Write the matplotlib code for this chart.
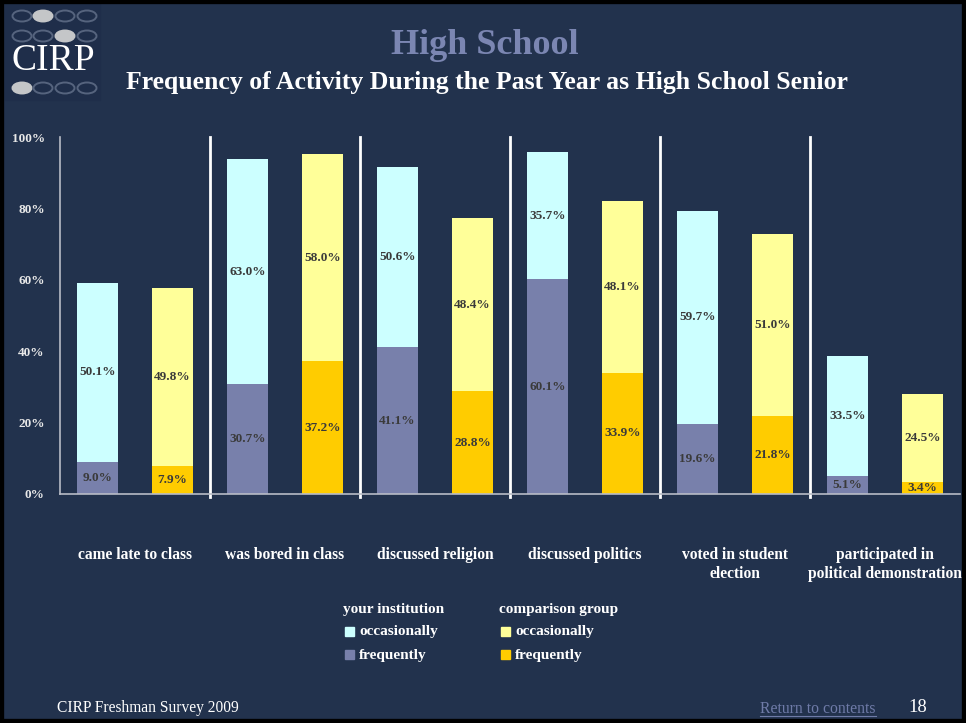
import numpy as np
import matplotlib
matplotlib.use("Agg")
import matplotlib.pyplot as plt
from matplotlib.patches import Rectangle, Ellipse
from matplotlib.lines import Line2D

# Data (percent of respondents)
categories = ["came late to class", "was bored in class", "discussed religion",
              "discussed politics", "voted in student\nelection",
              "participated in\npolitical demonstration"]
inst_frequently = [9.0, 30.7, 41.1, 60.1, 19.6, 5.1]
inst_occasionally = [50.1, 63.0, 50.6, 35.7, 59.7, 33.5]
comp_frequently = [7.9, 37.2, 28.8, 33.9, 21.8, 3.4]
comp_occasionally = [49.8, 58.0, 48.4, 48.1, 51.0, 24.5]
y_ticks = [0, 20, 40, 60, 80, 100]

# Colours
BG = "#22324d"
INST_OCC = "#ccffff"
INST_FREQ = "#7880ab"
COMP_OCC = "#ffff99"
COMP_FREQ = "#ffcc00"
TITLE_COL = "#7b86b2"
LABEL_COL = "#3a3a3a"
SERIF = ["Liberation Serif", "DejaVu Serif"]

plt.rcParams["font.family"] = SERIF

fig = plt.figure(figsize=(9.66, 7.23), dpi=100)
fig.patch.set_facecolor(BG)

W, H = 966.0, 723.0


def fx(px):
    return px / W


def fy(py):
    return 1 - py / H


# Chart axes
ax = fig.add_axes([fx(60), fy(494), 900 / W, 357 / H])
ax.set_facecolor(BG)
ax.set_xlim(0, len(categories))
ax.set_ylim(0, 100)

n = len(categories)
x = np.arange(n)
width = 0.267
pos_inst = x + 0.25
pos_comp = x + 0.75

ax.bar(pos_inst, inst_frequently, width, color=INST_FREQ, zorder=2)
ax.bar(pos_inst, inst_occasionally, width, bottom=inst_frequently, color=INST_OCC, zorder=2)
ax.bar(pos_comp, comp_frequently, width, color=COMP_FREQ, zorder=2)
ax.bar(pos_comp, comp_occasionally, width, bottom=comp_frequently, color=COMP_OCC, zorder=2)

# value labels in the middle of each segment
for i in range(n):
    for pos, lo, hi in [(pos_inst[i], inst_frequently[i], inst_occasionally[i]),
                        (pos_comp[i], comp_frequently[i], comp_occasionally[i])]:
        ax.text(pos, lo / 2, f"{lo:.1f}%", ha="center", va="center",
                fontsize=9.5, fontweight="bold", color=LABEL_COL, zorder=3)
        ax.text(pos, lo + hi / 2, f"{hi:.1f}%", ha="center", va="center",
                fontsize=9.5, fontweight="bold", color=LABEL_COL, zorder=3)

# group separators
for i in range(1, n):
    ax.plot([i, i], [-0.8, 100], color="white", lw=2, clip_on=False, zorder=1)

for s in ["top", "right"]:
    ax.spines[s].set_visible(False)
ax.spines["left"].set_color("#b8bcc6")
ax.spines["bottom"].set_color("#b8bcc6")
ax.spines["left"].set_linewidth(1.2)
ax.spines["bottom"].set_linewidth(1.2)

ax.set_yticks(y_ticks)
ax.set_yticklabels([f"{t}%" for t in y_ticks], fontsize=9.5, fontweight="bold", color="#e8e8e8")
ax.tick_params(axis="y", length=0, pad=11)
ax.set_xticks(x + 0.5)
ax.set_xticklabels(categories, fontsize=11.2, fontweight="bold", color="white",
                   linespacing=1.3, va="top")
ax.tick_params(axis="x", length=0, pad=38)

# Titles
fig.text(fx(485), fy(46), "High School", ha="center", va="center",
         fontsize=26, fontweight="bold", color=TITLE_COL)
fig.text(fx(487), fy(82), "Frequency of Activity During the Past Year as High School Senior",
         ha="center", va="center", fontsize=18.5, fontweight="bold", color="white")

# Legend (drawn by hand to match the slide layout)
legend_cols = [(343, "your institution", INST_OCC, INST_FREQ),
               (499, "comparison group", COMP_OCC, COMP_FREQ)]
for lx, head, c_occ, c_freq in legend_cols:
    fig.text(fx(lx), fy(610), head, ha="left", va="center", fontsize=11,
             fontweight="bold", color="white")
    for row_y, col, lab in [(632, c_occ, "occasionally"), (655, c_freq, "frequently")]:
        fig.patches.append(Rectangle((fx(lx + 2), fy(row_y + 4)), 9 / W, 9 / H,
                                     transform=fig.transFigure, color=col))
        fig.text(fx(lx + 16), fy(row_y), lab, ha="left", va="center", fontsize=11,
                 fontweight="bold", color="white")

# Footer
fig.text(fx(57), fy(708), "CIRP Freshman Survey 2009", ha="left", va="center",
         fontsize=11.2, color="white")
fig.text(fx(760), fy(709), "Return to contents", ha="left", va="center",
         fontsize=11.3, color="#6f7ba8")
fig.lines.append(Line2D([fx(760), fx(876)], [fy(716), fy(716)], transform=fig.transFigure,
                        color="#6f7ba8", lw=0.8))
fig.text(fx(908), fy(708), "18", ha="left", va="center", fontsize=13.5, color="white")

# Logo in the top-left corner, drawn in a pixel-scaled axes
logo = fig.add_axes([0, fy(104), 104 / W, 104 / H])
logo.set_xlim(0, 104)
logo.set_ylim(104, 0)
logo.axis("off")
logo.add_patch(Rectangle((5, 4), 95, 96, color="#1f2e4a", zorder=0))
filled = {0: 1, 1: 2, 2: 0}
for r, ry in enumerate([16, 36, 88]):
    for c, cx in enumerate([22, 43, 65, 87]):
        is_on = filled[r] == c
        logo.add_patch(Ellipse(
            (cx, ry), 19, 11,
            facecolor="#c4c6c8" if is_on else "none",
            edgecolor="#c4c6c8" if is_on else "#56647e", lw=1.4))
logo.text(53, 61, "CIRP", ha="center", va="center", fontsize=27, color="white")

# Black slide border
fig.patches.append(Rectangle((0, 0), 1, 1, transform=fig.transFigure, fill=False,
                             edgecolor="black", lw=6))

fig.savefig("out.png", dpi=100, facecolor=fig.get_facecolor())
